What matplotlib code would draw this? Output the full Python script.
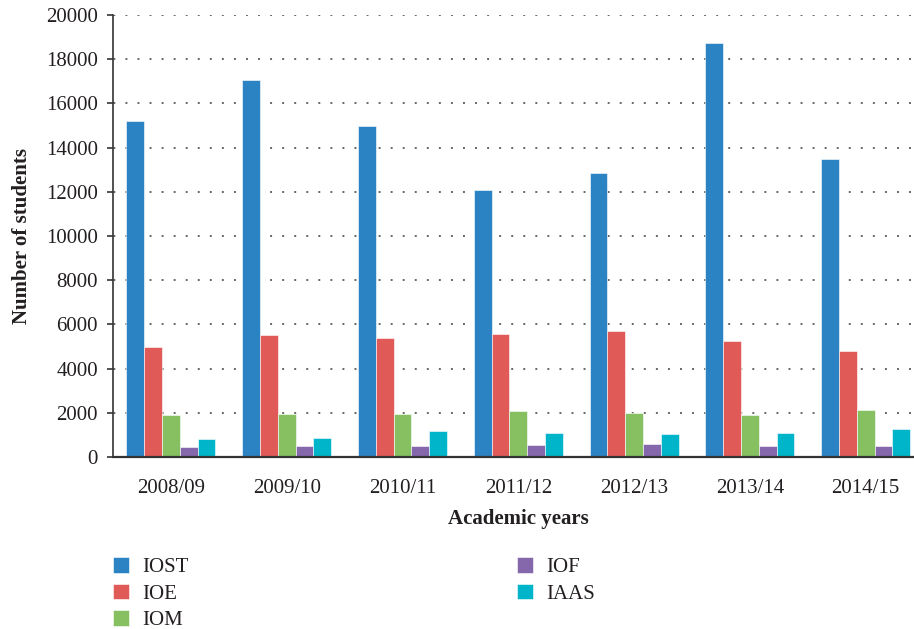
import matplotlib.pyplot as plt
import numpy as np

plt.rcParams['font.family'] = ['Liberation Serif', 'DejaVu Serif']

years = ['2008/09', '2009/10', '2010/11', '2011/12', '2012/13', '2013/14', '2014/15']
iost = [15200, 17050, 15000, 12100, 12830, 18750, 13500]
ioe = [5000, 5500, 5370, 5580, 5720, 5250, 4780]
iom = [1900, 1950, 1930, 2100, 2010, 1910, 2130]
iof = [430, 480, 520, 530, 610, 520, 480]
iaas = [800, 850, 1170, 1080, 1060, 1100, 1270]

series = [('IOST', iost, '#2b83c3'), ('IOE', ioe, '#e05a58'),
          ('IOM', iom, '#86c060'), ('IOF', iof, '#8567ab'),
          ('IAAS', iaas, '#00b5c9')]

fs = 15
txt = '#231f20'

fig = plt.figure(figsize=(9.14, 6.29), dpi=100)
ax = fig.add_axes([113/914, 1-457/629, 810.6/914, 442/629])

x = np.arange(len(years))
w = 0.154
for i, (name, vals, c) in enumerate(series):
    ax.bar(x + (i - 2) * w, vals, w, color=c, label=name,
           edgecolor='white', linewidth=0.4)

ax.set_xlim(-0.5, len(years) - 0.5)
ax.set_ylim(0, 20000)
ax.set_yticks(range(0, 20001, 2000))
ax.set_xticks(x)
ax.set_xticklabels(years)

ax.set_axisbelow(True)
ax.yaxis.grid(True, color='#666666', linewidth=1.4, linestyle=(6, (1, 5.2)))

for s in ['top', 'right']:
    ax.spines[s].set_visible(False)
ax.spines['left'].set_color('#333333')
ax.spines['bottom'].set_color('#333333')
ax.spines['bottom'].set_linewidth(1.6)
ax.spines['left'].set_linewidth(1.2)

ax.tick_params(axis='y', length=4.3, width=1.2, color='#333333', pad=6.5,
               labelsize=fs, labelcolor=txt)
ax.tick_params(axis='x', length=0, pad=16, labelsize=fs, labelcolor=txt)

ax.set_ylabel('Number of students', fontsize=fs, fontweight='bold',
              color=txt, labelpad=10)
ax.set_xlabel('Academic years', fontsize=fs, fontweight='bold',
              color=txt, labelpad=8)

fig.legend(loc='upper left', bbox_to_anchor=(112.7/914, 1-557/629), ncol=2,
           frameon=False, fontsize=fs, handlelength=0.77, handleheight=0.77,
           handletextpad=0.63, labelspacing=0.32, columnspacing=15.8,
           borderpad=0, borderaxespad=0, labelcolor=txt)

fig.savefig('out.png', dpi=100)
